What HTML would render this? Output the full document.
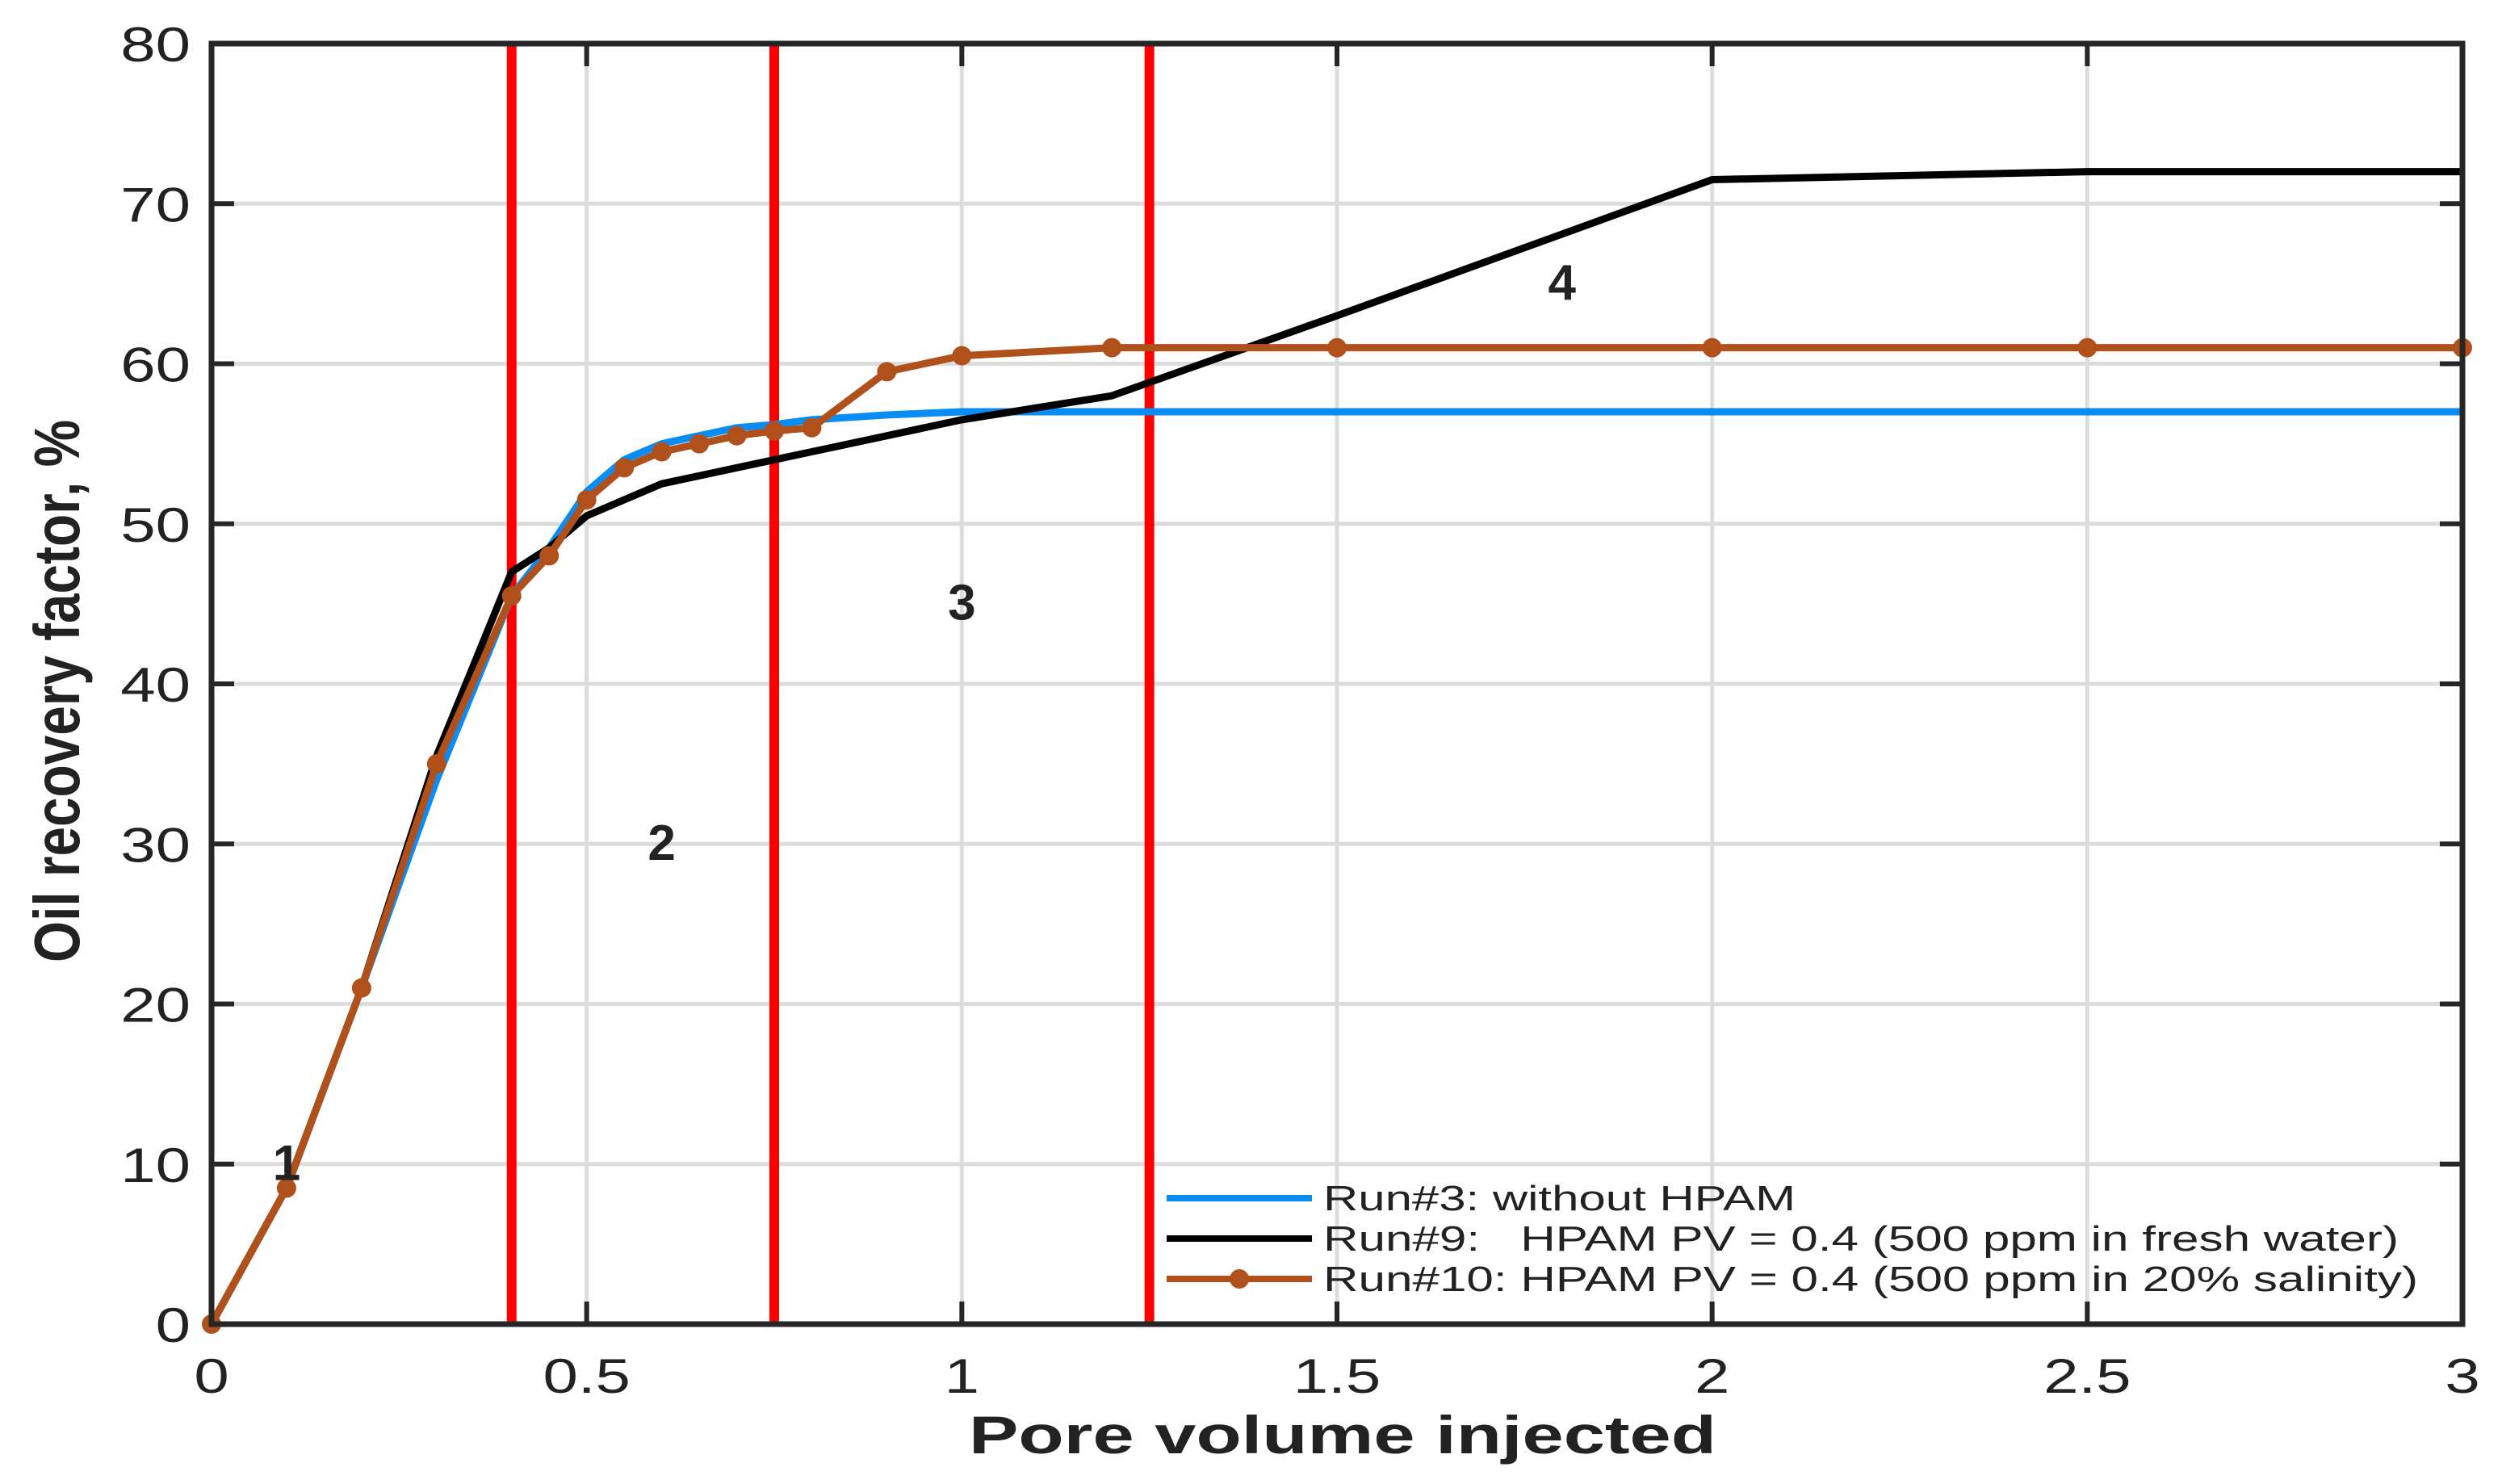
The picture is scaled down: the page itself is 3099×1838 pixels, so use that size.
<!DOCTYPE html>
<html><head><meta charset="utf-8"><style>
html,body{margin:0;padding:0;background:#fff}
svg{display:block}
text{font-family:"Liberation Sans",sans-serif;fill:#222}
</style></head><body>
<svg id="chart" width="3099" height="1838" viewBox="0 0 3099 1838" xmlns="http://www.w3.org/2000/svg">
<g id="grid"></g>
<g id="vlines"></g>
<g id="series"></g>
<g id="axes"></g>
<g id="annot"></g>
<g id="legend"></g>
<text transform="translate(98,856) rotate(-90)" text-anchor="middle" font-size="80" font-weight="bold" textLength="672" lengthAdjust="spacingAndGlyphs">Oil recovery factor, %</text>
<text x="1663" y="1800" text-anchor="middle" font-size="66" font-weight="bold" textLength="926" lengthAdjust="spacingAndGlyphs">Pore volume injected</text>
</svg>
<script>
const xTicks=[0,0.5,1,1.5,2,2.5,3];
const xTickLabels=["0","0.5","1","1.5","2","2.5","3"];
const yTicks=[0,10,20,30,40,50,60,70,80];
const yTickLabels=["0","10","20","30","40","50","60","70","80"];
const dividers=[0.4,0.75,1.25];
const run3X=[0,0.1,0.2,0.3,0.4,0.45,0.5,0.55,0.6,0.65,0.7,0.75,0.8,0.9,1,1.2,1.5,2,2.5,3];
const run3Y=[0,8.5,21,34,45.5,48.5,52,54,55,55.5,56,56.2,56.5,56.8,57,57,57,57,57,57];
const run9X=[0,0.1,0.2,0.3,0.4,0.45,0.5,0.6,0.75,1,1.2,1.5,2,2.5,3];
const run9Y=[0,8.5,21,35.5,47,48.5,50.5,52.5,54,56.5,58,63,71.5,72,72];
const run10X=[0,0.1,0.2,0.3,0.4,0.45,0.5,0.55,0.6,0.65,0.7,0.75,0.8,0.9,1,1.2,1.5,2,2.5,3];
const run10Y=[0,8.5,21,35,45.5,48,51.5,53.5,54.5,55,55.5,55.8,56,59.5,60.5,61,61,61,61,61];
const regionLabels=["1","2","3","4"];
const regionX=[0.1,0.6,1.0,1.8];
const regionY=[9,29,44,64];

const X0=262,X1=3050,Y0=1640,Y1=54;
const sx=v=>X0+(X1-X0)*v/3;
const sy=v=>Y0-(Y0-Y1)*v/80;
const NS="http://www.w3.org/2000/svg";
function mk(tag,parent,attrs){const e=document.createElementNS(NS,tag);for(const k in attrs)e.setAttribute(k,attrs[k]);parent.appendChild(e);return e;}
const grid=document.getElementById('grid');
xTicks.forEach(v=>{if(v>0&&v<3){const l=mk('line',grid,{x1:sx(v),x2:sx(v),y1:Y1,y2:Y0,stroke:'#dcdcdc','stroke-width':5});

}});
yTicks.forEach(v=>{if(v>0&&v<80){const l=mk('line',grid,{x1:X0,x2:X1,y1:sy(v),y2:sy(v),stroke:'#dcdcdc','stroke-width':5});

}});
const vl=document.getElementById('vlines');
dividers.forEach(v=>{const l=mk('line',vl,{x1:sx(v),x2:sx(v),y1:Y1,y2:Y0,stroke:'#ff0000','stroke-width':12});

});
const ser=document.getElementById('series');
function poly(xs,ys,color,name){const p=mk('polyline',ser,{points:xs.map((x,i)=>sx(x)+','+sy(ys[i])).join(' '),fill:'none',stroke:color,'stroke-width':9,'stroke-linejoin':'round'});

}
poly(run3X,run3Y,'#0a8cf5','run3-line');
poly(run9X,run9Y,'#000','run9-line');
poly(run10X,run10Y,'#b0501a','run10-line');
run10X.forEach((x,i)=>{const c=mk('circle',ser,{cx:sx(x),cy:sy(run10Y[i]),r:12,fill:'#b0501a'});

});
const ax=document.getElementById('axes');
const fr=mk('rect',ax,{x:X0,y:Y1,width:X1-X0,height:Y0-Y1,fill:'none',stroke:'#262626','stroke-width':7});


xTicks.forEach((v,i)=>{
 mk('line',ax,{x1:sx(v),x2:sx(v),y1:Y0,y2:Y0-28,stroke:'#262626','stroke-width':6});
 mk('line',ax,{x1:sx(v),x2:sx(v),y1:Y1,y2:Y1+28,stroke:'#262626','stroke-width':6});
 const t=mk('text',ax,{x:0,y:0,'text-anchor':'middle','font-size':60,transform:`translate(${sx(v)},1725) scale(1.3,1)`});
 t.textContent=xTickLabels[i];
 
 
});
yTicks.forEach((v,i)=>{
 mk('line',ax,{x1:X0,x2:X0+28,y1:sy(v),y2:sy(v),stroke:'#262626','stroke-width':6});
 mk('line',ax,{x1:X1,x2:X1-28,y1:sy(v),y2:sy(v),stroke:'#262626','stroke-width':6});
 const t=mk('text',ax,{x:0,y:0,'text-anchor':'end','font-size':60,transform:`translate(236,${sy(v)+22}) scale(1.3,1)`});
 t.textContent=yTickLabels[i];
 
 
});
const an=document.getElementById('annot');
regionLabels.forEach((s,i)=>{const t=mk('text',an,{x:sx(regionX[i]),y:sy(regionY[i]),'text-anchor':'middle','font-size':62,'font-weight':'bold'});
t.textContent=s;

});
const lg=document.getElementById('legend');
const legendTexts=["Run#3: without HPAM","Run#9:   HPAM PV = 0.4 (500 ppm in fresh water)","Run#10: HPAM PV = 0.4 (500 ppm in 20% salinity)"];
const legendColors=['#0a8cf5','#000','#b0501a'];
const legendLens=[585,1332,1356];
legendTexts.forEach((s,i)=>{
 const y=1484+i*50;
 mk('line',lg,{x1:1445,x2:1625,y1:y,y2:y,stroke:legendColors[i],'stroke-width':8});
 if(i==2){mk('circle',lg,{cx:1535,cy:y,r:12,fill:'#b0501a'});}
 const t=mk('text',lg,{x:1639,y:y+15,'font-size':44,textLength:legendLens[i],lengthAdjust:'spacingAndGlyphs'});
 t.setAttribute('style','white-space:pre');
 t.textContent=s;
 
 
});
</script>
</body></html>
